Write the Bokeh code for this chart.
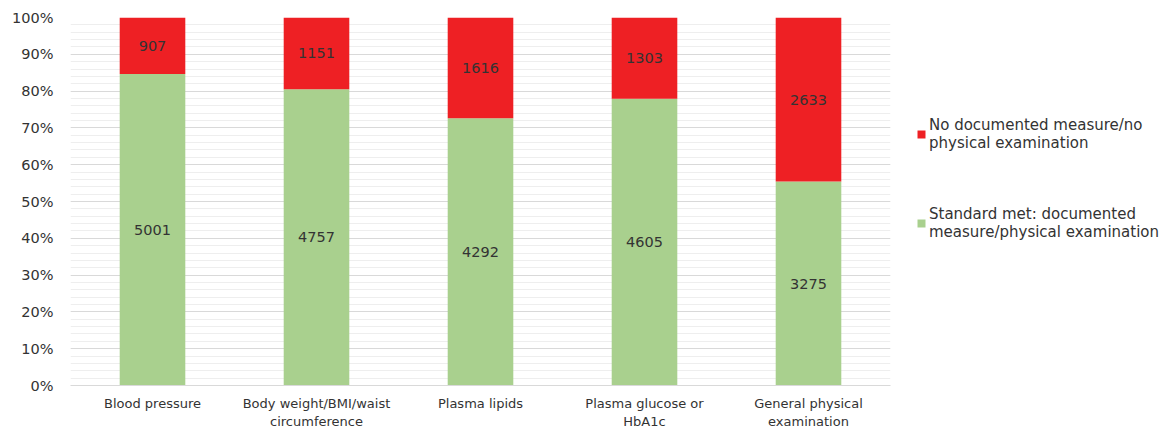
from bokeh.plotting import figure
from bokeh.models import (ColumnDataSource, FixedTicker, PrintfTickFormatter,
                          Legend, LegendItem, FactorRange, LabelSet)
from bokeh.core.properties import value
from bokeh.embed import file_html
from bokeh.resources import INLINE

categories = ["Blood pressure", "Body weight/BMI/waist\ncircumference", "Plasma lipids",
              "Plasma glucose or\nHbA1c", "General physical\nexamination"]
met_counts = [5001, 4757, 4292, 4605, 3275]
not_counts = [907, 1151, 1616, 1303, 2633]
series_names = ["No documented measure/no\nphysical examination",
                "Standard met: documented\nmeasure/physical examination"]

GREEN = "#a9d08e"
RED = "#ee2024"
FONT = "DejaVu Sans"

totals = [a + b for a, b in zip(met_counts, not_counts)]
met_pct = [100.0 * a / t for a, t in zip(met_counts, totals)]
not_pct = [100.0 * b / t for b, t in zip(not_counts, totals)]

src = ColumnDataSource(dict(
    cat=categories, met=met_pct, nodoc=not_pct,
    met_mid=[m / 2 for m in met_pct],
    not_mid=[m + n / 2 for m, n in zip(met_pct, not_pct)],
    met_lbl=[str(v) for v in met_counts],
    not_lbl=[str(v) for v in not_counts],
))

p = figure(x_range=FactorRange(*categories), y_range=(0, 100),
           frame_width=820, frame_height=368, output_backend="svg", toolbar_location=None,
           min_border_left=70, min_border_right=10, min_border_top=17, min_border_bottom=43)
p.outline_line_color = None

rs = p.vbar_stack(["met", "nodoc"], x="cat", width=0.4, source=src,
                  color=[GREEN, RED], line_color=None)

for ycol, tcol in (("met_mid", "met_lbl"), ("not_mid", "not_lbl")):
    p.add_layout(LabelSet(x="cat", y=ycol, text=tcol, source=src,
                          text_align="center", text_baseline="middle",
                          text_font=value(FONT), text_font_size="14.5px",
                          text_color="#333333"))

p.yaxis.ticker = FixedTicker(ticks=list(range(0, 101, 10)),
                             minor_ticks=list(range(0, 101, 2)))
p.yaxis.formatter = PrintfTickFormatter(format="%d%%")
p.yaxis.axis_line_color = None
p.yaxis.major_tick_line_color = None
p.yaxis.minor_tick_line_color = None
p.yaxis.major_label_text_font = FONT
p.yaxis.major_label_text_font_size = "14.5px"
p.yaxis.major_label_text_color = "#333333"
p.yaxis.major_label_standoff = 11

p.xaxis.axis_line_color = "#d9d9d9"
p.xaxis.major_tick_line_color = None
p.xaxis.minor_tick_line_color = None
p.xaxis.major_label_text_font = FONT
p.xaxis.major_label_text_font_size = "13px"
p.xaxis.major_label_text_color = "#333333"
p.xaxis.major_label_standoff = 4

p.xgrid.grid_line_color = None
p.ygrid.grid_line_color = "#d9d9d9"
p.ygrid.minor_grid_line_color = "#eeeeee"

legend = Legend(items=[LegendItem(label=series_names[0], renderers=[rs[1]]),
                       LegendItem(label=series_names[1], renderers=[rs[0]])],
                location=(26, 144))
legend.label_text_font = FONT
legend.label_text_font_size = "15px"
legend.label_text_color = "#333333"
legend.glyph_width = 10
legend.glyph_height = 10
legend.spacing = 53
legend.margin = 0
legend.padding = 0
legend.label_standoff = 3
legend.border_line_color = None
legend.background_fill_alpha = 0
p.add_layout(legend, "right")

open("out.html", "w").write(file_html(p, INLINE))
